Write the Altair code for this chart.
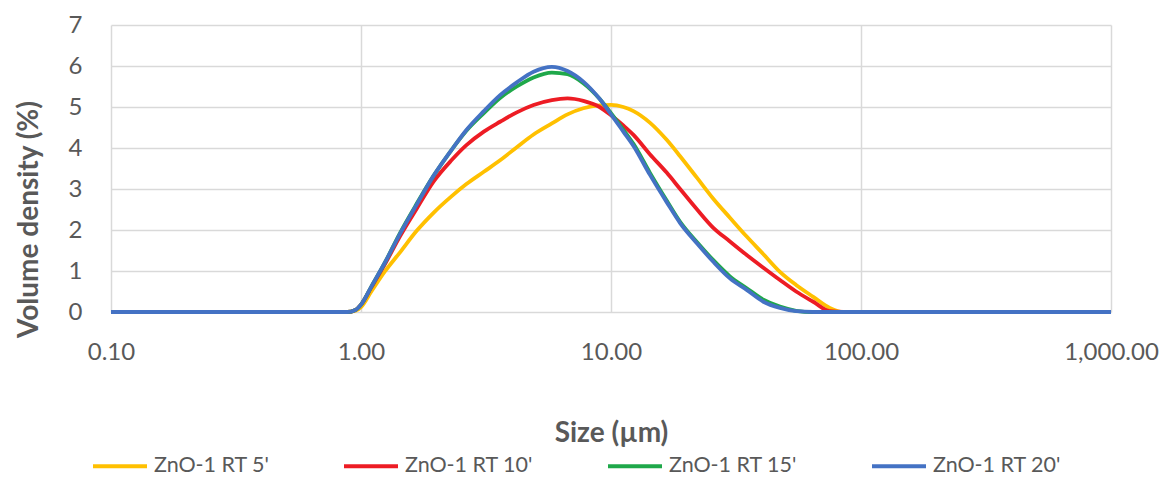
import altair as alt
import pandas as pd

# particle size (µm)
sizes = [0.1, 0.3, 0.6, 0.8, 0.88, 0.95, 1.0, 1.1, 1.25, 1.43, 1.67, 1.95, 2.3, 2.64,
         3.1, 3.6, 4.2, 4.9, 5.8, 6.7, 7.75, 9.0, 10.0, 11.2, 12.3, 14.3, 16.7, 18.9,
         22.1, 25.6, 29.9, 34.9, 40.7, 47.4, 55.0, 64.4, 75.0, 85.0, 100.0, 300.0, 1000.0]

rt5 = [0, 0, 0, 0, 0, 0.03, 0.12, 0.5, 1.0, 1.45, 1.98, 2.42, 2.82, 3.12,
       3.42, 3.7, 4.02, 4.33, 4.6, 4.82, 4.97, 5.04, 5.05, 5.0, 4.9, 4.62, 4.2, 3.8,
       3.27, 2.77, 2.3, 1.84, 1.41, 0.98, 0.66, 0.37, 0.1, 0, 0, 0, 0]

rt10 = [0, 0, 0, 0, 0, 0.05, 0.18, 0.6, 1.18, 1.84, 2.52, 3.18, 3.7, 4.07,
        4.4, 4.64, 4.87, 5.05, 5.17, 5.21, 5.15, 5.0, 4.8, 4.55, 4.32, 3.85, 3.4, 3.0,
        2.5, 2.06, 1.72, 1.39, 1.08, 0.78, 0.5, 0.25, 0.02, 0, 0, 0, 0]

rt15 = [0, 0, 0, 0, 0, 0.05, 0.18, 0.62, 1.22, 1.92, 2.64, 3.32, 3.95, 4.42,
        4.85, 5.22, 5.5, 5.72, 5.84, 5.8, 5.58, 5.2, 4.85, 4.45, 4.1, 3.4, 2.72, 2.2,
        1.7, 1.27, 0.87, 0.58, 0.3, 0.13, 0.03, 0, 0, 0, 0, 0, 0]

rt20 = [0, 0, 0, 0, 0, 0.05, 0.18, 0.62, 1.22, 1.9, 2.62, 3.32, 3.95, 4.44,
        4.9, 5.29, 5.6, 5.86, 5.98, 5.88, 5.62, 5.2, 4.82, 4.4, 4.05, 3.35, 2.68, 2.17,
        1.67, 1.23, 0.82, 0.54, 0.25, 0.1, 0.02, 0, 0, 0, 0, 0, 0]

series_names = ["ZnO-1 RT 5'", "ZnO-1 RT 10'", "ZnO-1 RT 15'", "ZnO-1 RT 20'"]
colors = ["#FFC000", "#ED1C24", "#1FA84A", "#4472C4"]
x_ticks = [0.1, 1, 10, 100, 1000]
y_ticks = [0, 1, 2, 3, 4, 5, 6, 7]

rows = []
for name, vals in zip(series_names, [rt5, rt10, rt15, rt20]):
    for s, v in zip(sizes, vals):
        rows.append({"size": s, "density": v, "series": name})
df = pd.DataFrame(rows)

FONT = "Lato"
GRAY = "#595959"

x_enc = alt.X(
    "size:Q",
    scale=alt.Scale(type="log", domain=[0.1, 1000], nice=False),
    axis=alt.Axis(
        values=x_ticks, format=",.2f", title="Size (µm)",
        grid=True, gridColor="#D9D9D9", gridWidth=1.5,
        domain=False, ticks=False, tickSize=0,
        labelFont=FONT, labelFontSize=24, labelColor=GRAY,
        labelPadding=40, labelBaseline="middle", labelFlush=False,
        titleFont=FONT, titleFontSize=28, titleFontWeight="bold", titleColor=GRAY,
        titleY=121, titleBaseline="middle",
    ),
)
y_enc = alt.Y(
    "density:Q",
    scale=alt.Scale(domain=[0, 7], nice=False),
    axis=alt.Axis(
        values=y_ticks, title="Volume density (%)",
        grid=True, gridColor="#D9D9D9", gridWidth=1.5,
        domain=False, ticks=False, tickSize=0,
        labelFont=FONT, labelFontSize=24, labelColor=GRAY,
        labelPadding=29,
        titleFont=FONT, titleFontSize=28, titleFontWeight="bold", titleColor=GRAY,
        titleX=-82, titleY=194, titleAngle=270, titleAlign="center", titleBaseline="middle",
    ),
)
color_enc = alt.Color(
    "series:N",
    scale=alt.Scale(domain=series_names, range=colors),
    legend=alt.Legend(
        title=None, orient="none", direction="horizontal",
        legendX=-20, legendY=412,
        symbolType="stroke", symbolSize=2916, symbolStrokeWidth=4,
        labelFont=FONT, labelFontSize=21.5, labelColor=GRAY,
        labelOffset=5, columnPadding=66, padding=0,
    ),
)

layers = []
for name in series_names:
    layers.append(
        alt.Chart(df)
        .transform_filter(alt.datum.series == name)
        .mark_line(strokeWidth=3.8, interpolate="monotone")
        .encode(x=x_enc, y=y_enc, color=color_enc)
    )

chart = (
    alt.layer(*layers)
    .properties(
        width=1000, height=287,
        autosize=alt.AutoSizeParams(type="none"),
        padding={"left": 103, "top": 17, "right": 55, "bottom": 172},
    )
    .configure_view(strokeWidth=0)
)

chart.save("out.html", embed_options={"renderer": "svg", "actions": False})
